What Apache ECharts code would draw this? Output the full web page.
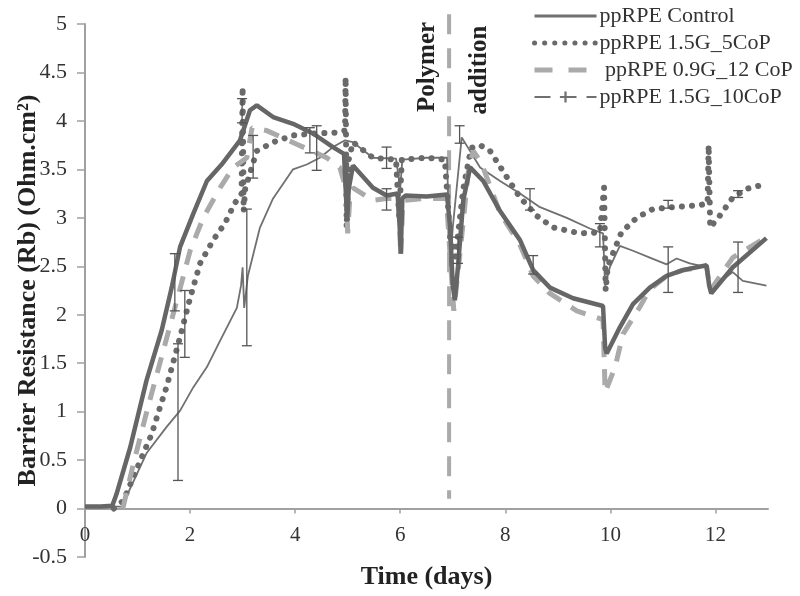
<!DOCTYPE html>
<html>
<head>
<meta charset="utf-8">
<script src="https://cdn.jsdelivr.net/npm/echarts@6/dist/echarts.min.js"></script>
<style>html,body{margin:0;padding:0;background:#fff;}#c{width:800px;height:596px;}</style>
</head>
<body>
<div id="c"></div>
<script>
// ---- data ----
const seriesNames = ['ppRPE Control', 'ppRPE 1.5G_5CoP', ' ppRPE 0.9G_12 CoP', 'ppRPE 1.5G_10CoP'];
const xTicks = [0, 2, 4, 6, 8, 10, 12];
const yMin = -0.5, yMax = 5;
const polymerDay = 6.93;
const polymerLine = [[polymerDay, 5.1], [polymerDay, 0.1]];

const controlData = [[0,0.02],[0.3,0.02],[0.52,0.03],[0.6,0.15],[0.86,0.63],[1.17,1.32],[1.46,1.84],[1.65,2.28],[1.81,2.7],[2.06,3.04],[2.32,3.38],[2.6,3.55],[2.95,3.8],[3.14,4.11],[3.27,4.16],[3.58,4.04],[3.96,3.97],[4.34,3.87],[4.72,3.73],[4.93,3.66],[4.97,3.2],[4.99,2.97],[5.02,3.3],[5.1,3.54],[5.48,3.31],[5.74,3.23],[5.95,3.25],[5.99,2.9],[6.01,2.63],[6.04,3.2],[6.1,3.23],[6.5,3.22],[6.89,3.24],[6.95,2.9],[7.0,2.3],[7.04,2.15],[7.1,2.5],[7.2,3.18],[7.33,3.52],[7.58,3.38],[7.9,3.07],[8.28,2.77],[8.53,2.46],[8.85,2.28],[9.29,2.17],[9.86,2.09],[9.9,1.66],[9.93,1.6],[10.18,1.87],[10.43,2.11],[10.75,2.28],[11.07,2.4],[11.38,2.46],[11.83,2.51],[11.88,2.3],[11.92,2.22],[12.33,2.49],[12.97,2.79]];

const cop5Data = [[0.55,0],[0.73,0.08],[1.08,0.53],[1.27,0.77],[1.43,1.05],[1.55,1.25],[1.81,1.77],[2.0,2.17],[2.19,2.53],[2.44,2.77],[2.66,2.94],[2.85,3.15],[2.98,3.25],[3.0,4.35],[3.02,3.07],[3.05,3.3],[3.27,3.69],[3.58,3.78],[3.96,3.85],[4.34,3.87],[4.8,3.88],[4.95,3.9],[4.96,4.45],[4.98,2.9],[5.02,3.6],[5.1,3.78],[5.48,3.62],[5.92,3.6],[5.98,3.0],[6.03,3.6],[6.5,3.62],[6.85,3.6],[6.9,3.2],[6.95,2.8],[7.05,2.6],[7.2,3.3],[7.35,3.72],[7.52,3.75],[7.71,3.69],[8.03,3.42],[8.28,3.21],[8.6,3.02],[8.91,2.9],[9.42,2.84],[9.8,2.85],[9.88,3.31],[9.91,2.25],[9.95,2.5],[10.21,2.85],[10.5,3.0],[10.81,3.09],[11.19,3.11],[11.7,3.13],[11.85,3.15],[11.87,3.75],[11.9,2.9],[12.08,3.02],[12.33,3.21],[12.6,3.3],[12.97,3.35]];

const cop12Data = [[0.72,0],[0.92,0.46],[1.2,1.05],[1.5,1.65],[1.75,2.15],[2.0,2.66],[2.25,3.0],[2.57,3.31],[2.82,3.52],[3.08,3.62],[3.18,3.93],[3.46,3.9],[4.03,3.76],[4.6,3.62],[4.85,3.52],[4.97,3.3],[5.0,2.84],[5.04,3.2],[5.1,3.31],[5.48,3.18],[5.74,3.2],[5.97,3.2],[6.01,2.6],[6.05,3.18],[6.5,3.2],[6.88,3.2],[6.95,2.6],[7.02,2.04],[7.15,2.7],[7.3,3.5],[7.39,3.69],[7.55,3.56],[7.9,3.05],[8.28,2.72],[8.53,2.4],[8.85,2.22],[9.36,2.04],[9.74,1.97],[9.86,1.95],[9.9,1.2],[9.93,1.19],[10.09,1.46],[10.24,1.8],[10.56,2.08],[10.75,2.26],[11.07,2.4],[11.38,2.46],[11.83,2.5],[11.9,2.25],[12.33,2.59],[12.97,2.8]];

const cop10Data = [[0,0.02],[0.7,0.02],[0.73,0.03],[1.17,0.57],[1.55,0.84],[1.81,1.01],[2.06,1.25],[2.32,1.46],[2.57,1.73],[2.89,2.07],[2.97,2.3],[3.0,2.49],[3.03,2.07],[3.1,2.4],[3.33,2.9],[3.58,3.2],[3.96,3.5],[4.22,3.55],[4.47,3.62],[4.72,3.73],[4.95,3.8],[5.1,3.78],[5.48,3.62],[5.92,3.61],[6.0,3.3],[6.04,3.6],[6.5,3.62],[6.89,3.62],[6.95,2.5],[7.0,2.9],[7.17,3.83],[7.52,3.52],[7.9,3.38],[8.28,3.25],[8.66,3.11],[9.17,3.0],[9.61,2.89],[9.86,2.84],[9.9,2.3],[9.99,2.49],[10.18,2.71],[10.43,2.66],[10.75,2.59],[11.07,2.52],[11.26,2.58],[11.51,2.53],[11.83,2.49],[11.9,2.3],[11.94,2.28],[12.33,2.44],[12.52,2.35],[12.97,2.3]];

// error bars: [x, low, high]
const errorBars = [[1.71,2.04,2.63],[1.9,1.56,2.25],[1.77,0.29,1.7],[3.08,1.68,3.09],[2.99,3.98,4.23],[3.2,3.41,3.85],[4.41,3.49,3.95],[4.28,3.67,3.93],[5.74,3.51,3.73],[5.74,3.08,3.3],[7.13,3.77,3.95],[7.1,2.53,2.8],[8.47,3.08,3.3],[8.53,2.42,2.61],[9.8,2.7,2.94],[11.1,3.1,3.18],[11.1,2.23,2.7],[12.43,3.21,3.28],[12.43,2.23,2.75]];

const serif = '"Liberation Serif", "Times New Roman", serif';
const chart = echarts.init(document.getElementById('c'), null, {renderer: 'canvas'});

const gridTop = 24, gridBottom = 39, H = 596;
const gridH = H - gridTop - gridBottom;
// move the x axis up so it crosses the y axis at 0
const xAxisOffset = -gridH * (0 - yMin) / (yMax - yMin);

const hideSym = {opacity: 0};
const option = {
  animation: false,
  backgroundColor: '#fff',
  grid: {left: 85, right: 32, top: gridTop, bottom: gridBottom, containLabel: false, outerBoundsMode: 'none'},
  legend: {
    orient: 'vertical', left: 527, top: 0,
    itemWidth: 62, itemHeight: 14, itemGap: 5,
    textStyle: {fontFamily: serif, fontSize: 22, color: '#333', padding: [0,0,0,-2]},
    data: [
      {name: seriesNames[0], itemStyle: hideSym, lineStyle: {width: 3, color: '#707070'}},
      {name: seriesNames[1], itemStyle: hideSym, lineStyle: {width: 5, color: '#6a6a6a', type: [0.1, 10], cap: 'round'}},
      {name: seriesNames[2], itemStyle: hideSym, lineStyle: {width: 5, color: '#aaaaaa', type: [18, 16]}},
      {name: seriesNames[3], lineStyle: {type: [16, 10], width: 2, color: '#707070'}}
    ]
  },
  xAxis: {
    type: 'value', min: 0, max: 13, offset: xAxisOffset,
    name: 'Time (days)', nameLocation: 'middle', nameGap: 56, nameMoveOverlap: false,
    nameTextStyle: {fontFamily: serif, fontSize: 26, fontWeight: 'bold', color: '#222'},
    axisLine: {onZero: false, lineStyle: {color: '#a0a0a0', width: 2}},
    axisTick: {show: true, length: 5, lineStyle: {color: '#a0a0a0', width: 1.5}, customValues: xTicks},
    axisLabel: {fontFamily: serif, fontSize: 21, color: '#333', margin: 16, customValues: xTicks},
    splitLine: {show: false}
  },
  yAxis: {
    type: 'value', min: yMin, max: yMax, interval: 0.5,
    name: 'Barrier Resistance (Rb) (Ohm.cm²)', nameLocation: 'middle', nameGap: 44, nameMoveOverlap: false,
    nameTextStyle: {fontFamily: serif, fontSize: 26, fontWeight: 'bold', color: '#222'},
    axisLine: {show: true, onZero: false, lineStyle: {color: '#a0a0a0', width: 2}},
    axisTick: {show: true, length: 8, lineStyle: {color: '#a0a0a0', width: 1.5}},
    axisLabel: {fontFamily: serif, fontSize: 22, color: '#333', margin: 18},
    splitLine: {show: false}
  },
  series: [
    {
      name: 'polymer', type: 'line', data: polymerLine, z: 1, clip: false, silent: true,
      symbol: 'none', lineStyle: {color: '#aaaaaa', width: 4, type: [20, 14]}
    },
    {
      name: seriesNames[3], type: 'line', data: cop10Data, z: 2,
      symbol: 'path://M4,0H6V4H10V6H6V10H4V6H0V4H4Z', symbolSize: 8, showSymbol: false,
      itemStyle: {color: '#707070'},
      lineStyle: {color: '#707070', width: 1.8}
    },
    {
      name: seriesNames[1], type: 'line', data: cop5Data, z: 3,
      symbol: 'none',
      itemStyle: {color: '#6a6a6a'},
      lineStyle: {color: '#6a6a6a', width: 6, type: [0.1, 10], cap: 'round'}
    },
    {
      name: seriesNames[2], type: 'line', data: cop12Data, z: 4,
      symbol: 'none',
      itemStyle: {color: '#aaaaaa'},
      lineStyle: {color: '#aaaaaa', width: 5, type: [16, 12]}
    },
    {
      name: seriesNames[0], type: 'line', data: controlData, z: 5,
      symbol: 'none',
      itemStyle: {color: '#666666'},
      lineStyle: {color: '#666666', width: 4.5}
    },
    {
      name: 'errors', type: 'custom', z: 6, silent: true,
      data: errorBars,
      encode: {x: 0, y: [1, 2]},
      renderItem: function (params, api) {
        const x = api.value(0);
        const lo = api.coord([x, api.value(1)]);
        const hi = api.coord([x, api.value(2)]);
        const w = 5;
        const st = {stroke: '#555', lineWidth: 1.3};
        return {type: 'group', children: [
          {type: 'line', shape: {x1: lo[0], y1: lo[1], x2: hi[0], y2: hi[1]}, style: st},
          {type: 'line', shape: {x1: lo[0]-w, y1: lo[1], x2: lo[0]+w, y2: lo[1]}, style: st},
          {type: 'line', shape: {x1: hi[0]-w, y1: hi[1], x2: hi[0]+w, y2: hi[1]}, style: st}
        ]};
      }
    }
  ],
  graphic: [
    {type: 'text', x: 428, y: 67, rotation: Math.PI / 2,
     style: {text: 'Polymer', fontFamily: serif, fontSize: 25, fontWeight: 'bold', fill: '#222', align: 'center', verticalAlign: 'middle'}},
    {type: 'text', x: 480, y: 70, rotation: Math.PI / 2,
     style: {text: 'addition', fontFamily: serif, fontSize: 25, fontWeight: 'bold', fill: '#222', align: 'center', verticalAlign: 'middle'}}
  ]
};
chart.setOption(option);
</script>
</body>
</html>
